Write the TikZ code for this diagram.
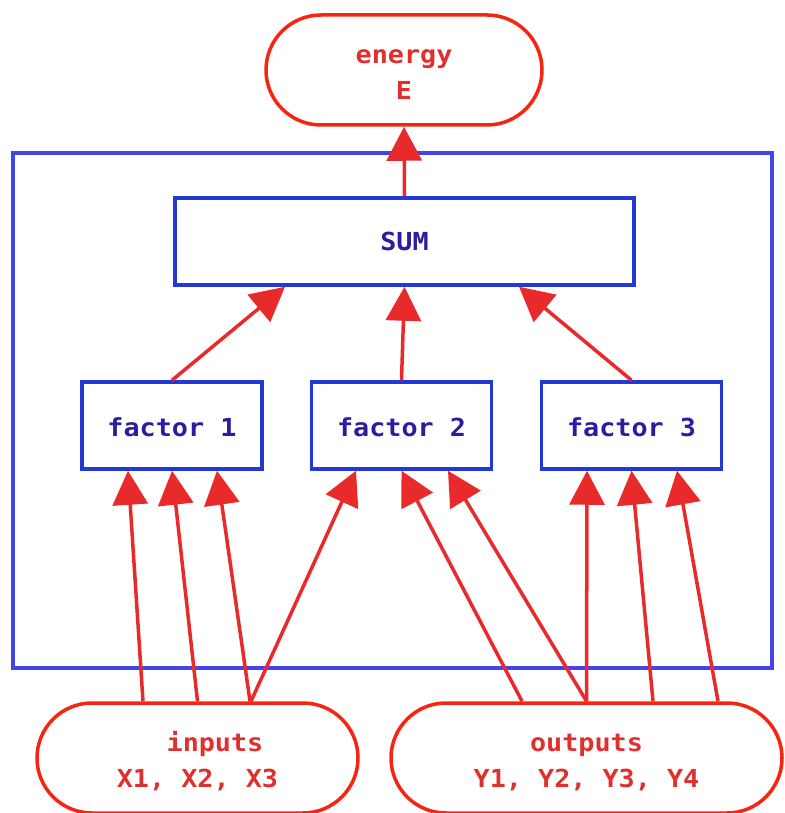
\documentclass[tikz,border=0pt]{standalone}
\usepackage{fontspec}
\newfontfamily\labelfont[FakeStretch=1.08]{DejaVu Sans Mono}
\usetikzlibrary{arrows.meta}
\definecolor{termred}{HTML}{F52512}
\definecolor{termtext}{HTML}{E0302E}
\definecolor{flowred}{HTML}{E82A2A}
\definecolor{boxblue}{HTML}{2238D8}
\definecolor{frameblue}{HTML}{4444EE}
\definecolor{boxtext}{HTML}{2A1E9E}
% strut that lowers a label inside its node
\newcommand\toppad[1]{\rule{0pt}{#1}}
\tikzset{
  every node/.style={font=\labelfont\bfseries\fontsize{24.8}{36}\selectfont, align=center, inner sep=0pt},
  terminal/.style={draw=termred, line width=3.5pt, rounded corners=55pt, text=termtext, minimum height=110pt},
  block/.style={draw=boxblue, line width=3.5pt, text=boxtext, minimum height=87pt},
  flow/.style={draw=flowred, line width=3.5pt, -{Triangle[length=34pt,width=35pt]}},
  frame/.style={draw=frameblue, line width=3.5pt}
}
\begin{document}
\begin{tikzpicture}[x=1pt,y=-1pt]
\useasboundingbox (0,0) rectangle (784,813);
% outer frame around the sum and the three factors
\draw[frame] (13,153) rectangle (772,668);
% nodes
\node[terminal, minimum width=276pt] (energy) at (404,70) {\toppad{23pt}energy\\E};
\node[block, minimum width=459pt] (sum) at (404.5,241.5) {SUM};
\node[block, minimum width=180pt] (f1) at (172,425.5) {\toppad{22pt}factor 1};
\node[block, minimum width=180pt] (f2) at (401.5,425.5) {\toppad{22pt}factor 2};
\node[block, minimum width=180pt] (f3) at (631.5,425.5) {\toppad{22pt}factor 3};
\node[terminal, minimum width=321pt] (inputs) at (197.5,758) {\toppad{26pt}\hspace*{35pt}inputs\\X1, X2, X3};
\node[terminal, minimum width=391pt] (outputs) at (586.5,758) {\toppad{27pt}outputs\\Y1, Y2, Y3, Y4};
% sum to energy
\draw[flow] (sum.north) -- (energy.south);
% factors to sum
\draw[flow] (f1.north) -- ([xshift=-119.5pt]sum.south);
\draw[flow] (f2.north) -- (sum.south);
\draw[flow] (f3.north) -- ([xshift=114.5pt]sum.south);
% inputs to factors
\draw[flow] ([xshift=-54.5pt]inputs.north) -- ([xshift=-44pt]f1.south);
\draw[flow] (inputs.north) -- (f1.south);
\draw[flow] ([xshift=52.5pt]inputs.north) -- ([xshift=45pt]f1.south);
\draw[flow] ([xshift=53.5pt]inputs.north) -- ([xshift=-45.5pt]f2.south);
% outputs to factors
\draw[flow] ([xshift=-64.5pt]outputs.north) -- (f2.south);
\draw[flow] (outputs.north) -- ([xshift=46.5pt]f2.south);
\draw[flow] (outputs.north) -- ([xshift=-44.5pt]f3.south);
\draw[flow] ([xshift=66.5pt]outputs.north) -- (f3.south);
\draw[flow] ([xshift=131.5pt]outputs.north) -- ([xshift=45.5pt]f3.south);
\end{tikzpicture}
\end{document}
